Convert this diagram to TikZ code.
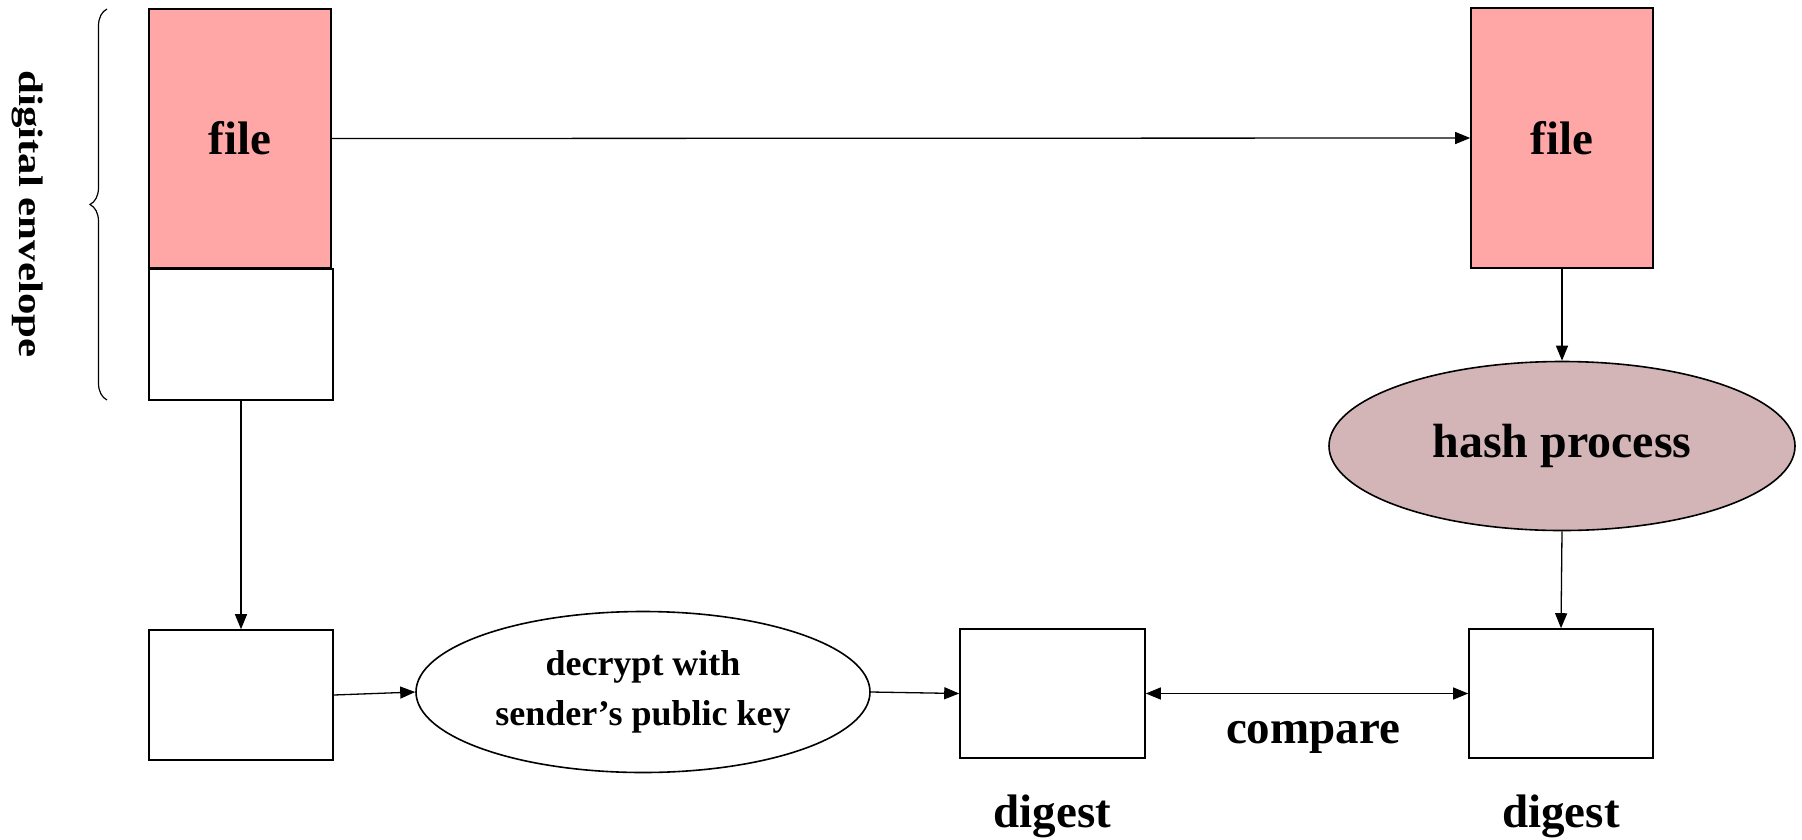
\documentclass[tikz,border=0pt]{standalone}
\usepackage{fontspec}
\setmainfont{Liberation Serif}
\usetikzlibrary{arrows.meta,shapes.geometric,decorations.pathreplacing}
\definecolor{filepink}{RGB}{255,166,166}
\definecolor{hashrose}{RGB}{211,181,184}
\begin{document}
\begin{tikzpicture}[x=1pt,y=-1pt,
  box/.style={draw=black,line width=1.6pt,rectangle,inner sep=0pt},
  filebox/.style={box,fill=filepink,minimum width=182pt,minimum height=259pt,font=\fontsize{47}{47}\selectfont\bfseries},
  plainbox/.style={box,fill=white,minimum width=184pt,minimum height=130pt},
  oval/.style={draw=black,line width=1.6pt,ellipse,inner sep=0pt},
  conn/.style={line width=1.3pt,-{Triangle[length=15pt,width=12pt]}},
  bigtxt/.style={font=\fontsize{47}{47}\selectfont\bfseries,inner sep=0pt}]
\useasboundingbox (0,0) rectangle (1802,839);
% top row
\node[filebox] (lf) at (240,138.5) {file};
\node[plainbox,minimum height=131pt] (env) at (241,334.5) {};
\node[filebox,minimum height=260pt] (rf) at (1562,138) {file};
% hash
\node[oval,fill=hashrose,minimum width=466pt,minimum height=169pt,font=\fontsize{48}{48}\selectfont\bfseries] (hash) at (1562,446) {hash process};
% bottom row
\node[plainbox] (bl) at (241,695) {};
\node[oval,fill=white,minimum width=454pt,minimum height=161pt,align=center,font=\fontsize{36}{50}\selectfont\bfseries] (dec) at (643,692)
  {decrypt with\\sender’s public key};
\node[plainbox,minimum width=185pt,minimum height=129pt] (md) at (1052.5,693.5) {};
\node[plainbox,minimum height=129pt] (rd) at (1561,693.5) {};
% labels
\node[bigtxt,anchor=base] (dg1) at ([yshift=-69pt]md.south) {digest};
\node[bigtxt,anchor=base] (dg2) at ([yshift=-69pt]rd.south) {digest};
% brace
\coordinate (bt) at (107,9);
\coordinate (bb) at (107,400);
\draw[line width=1.2pt,decorate,decoration={brace,amplitude=17pt}] (bb) -- (bt);
\node[rotate=-90,inner sep=0pt,font=\fontsize{34}{34}\selectfont\bfseries] (de) at (28,214) {\scalebox{1.26}[1]{digital envelope}};
% connectors
\draw[conn] (lf.east) -- (rf.west);
\draw[conn] (env.south) -- (bl.north);
\draw[conn] (rf.south) -- (hash.north);
\draw[conn] (hash.south) -- (rd.north);
\draw[conn] (bl.east) -- (dec.west);
\draw[conn] (dec.east) -- (md.west);
\draw[line width=1.3pt,{Triangle[length=15pt,width=12pt]}-{Triangle[length=15pt,width=12pt]}] (md.east) -- (rd.west)
  node[bigtxt,midway,anchor=base,yshift=-50pt,xshift=6pt] (cmp) {compare};
\end{tikzpicture}
\end{document}
